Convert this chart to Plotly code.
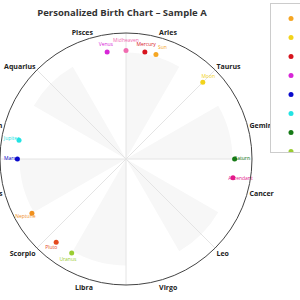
import plotly.graph_objects as go

# ---- data ----
SIGNS = ["Aries", "Taurus", "Gemini", "Cancer", "Leo", "Virgo",
         "Libra", "Scorpio", "Sagittarius", "Capricorn", "Aquarius", "Pisces"]
SIGN_MID_DEG = [15, 45, 75, 105, 135, 165, 195, 225, 255, 285, 315, 345]
SIGN_SHADED = [1, 0, 1, 0, 1, 0, 1, 0, 1, 0, 1, 0]

PLANETS = ["Sun", "Moon", "Mercury", "Venus", "Mars", "Jupiter", "Saturn",
           "Uranus", "Neptune", "Pluto", "Ascendant", "Midheaven"]
LONGITUDES = [16, 45, 10, 350, 270, 280, 90, 210, 240, 220, 100, 0]
PLANET_COLORS = ["#F5A623", "#F2D31B", "#D7141E", "#D726D7", "#0A0ACC", "#22E3E3",
                 "#167A16", "#9ACD32", "#F0901E", "#E4491E", "#E3198A", "#F06CB0"]

GRID_ANGLES = [0, 45, 90, 135, 180, 225, 270, 315]

# ---- style constants ----
R_MAX = 1.16
R_WEDGE = 0.98
R_PLANET = 1.0
R_TEXT = 1.07
LABEL_POS = {"Sun": "middle right", "Midheaven": "top center"}

fig = go.Figure()

# alternating sign wedges
fig.add_trace(go.Barpolar(
    r=[R_WEDGE] * len(SIGNS), theta=SIGN_MID_DEG, width=[30] * len(SIGNS),
    marker=dict(color=["#f7f7f7" if s else "rgba(255,255,255,0)" for s in SIGN_SHADED],
                line=dict(width=0)),
    showlegend=False, hoverinfo="skip"))

# radial grid lines
gr, gt = [], []
for a in GRID_ANGLES:
    gr += [0, R_MAX, None]
    gt += [a, a, None]
fig.add_trace(go.Scatterpolar(r=gr, theta=gt, mode="lines",
                              line=dict(color="#e4e4e4", width=1),
                              showlegend=False, hoverinfo="skip"))

# planets
for name, lon, col in zip(PLANETS, LONGITUDES, PLANET_COLORS):
    fig.add_trace(go.Scatterpolar(r=[R_PLANET], theta=[lon], mode="markers", name=name,
                                  marker=dict(size=5, color=col), cliponaxis=False))

fig.add_trace(go.Scatterpolar(r=[R_TEXT] * len(PLANETS), theta=LONGITUDES, mode="text",
                              text=PLANETS,
                              textposition=[LABEL_POS.get(p, "middle center") for p in PLANETS],
                              textfont=dict(size=5, color=PLANET_COLORS, family="Open Sans"),
                              showlegend=False, hoverinfo="skip", cliponaxis=False))

W, H = 300, 300
ML, MR, MT, MB = 0, 0, 33, 15
fig.update_layout(
    width=W, height=H,
    margin=dict(l=ML, r=MR, t=MT, b=MB, autoexpand=False),
    paper_bgcolor="white",
    font=dict(family="Open Sans", color="#333"),
    title=dict(text="<b>Personalized Birth Chart – Sample A</b>",
               font=dict(size=9.5, color="#333"),
               x=122 / W, xref="container", xanchor="center",
               y=1 - 13 / H, yref="container", yanchor="middle"),
    polar=dict(
        domain=dict(x=[0, 252 / W], y=[0, 1]),
        bgcolor="white",
        radialaxis=dict(visible=False, range=[0, R_MAX]),
        angularaxis=dict(rotation=90, direction="clockwise",
                         tickmode="array", tickvals=SIGN_MID_DEG, ticktext=SIGNS,
                         tickfont=dict(size=7, color="#222", weight="bold"),
                         ticks="", showgrid=False,
                         showline=True, linecolor="#444", linewidth=1),
    ),
    legend=dict(x=270 / W, xanchor="left", y=(H - MB - 3) / (H - MT - MB), yanchor="top",
                font=dict(size=7), bordercolor="#cccccc", borderwidth=1,
                bgcolor="white"),
)

fig.write_html("out.html")
